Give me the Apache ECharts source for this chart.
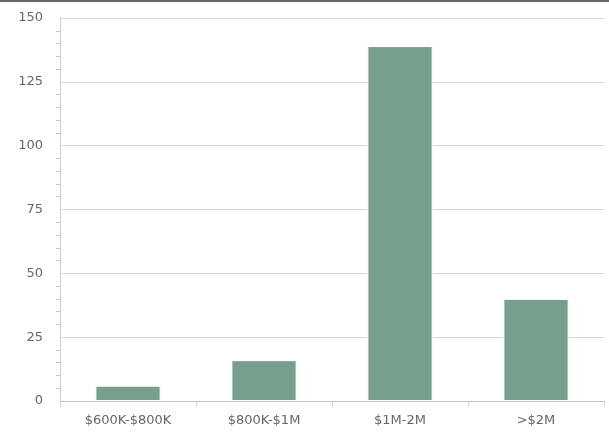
<!DOCTYPE html>
<html>
<head>
<meta charset="utf-8">
<script src="https://cdn.jsdelivr.net/npm/echarts@6/dist/echarts.min.js"></script>
<style>
  html, body { margin: 0; padding: 0; background: #fff; }
  #topline { position: absolute; left: 0; top: 0; width: 609px; height: 2px; background: #6e655c; }
  #chart { width: 609px; height: 440px; }
</style>
</head>
<body>
<div id="topline"></div>
<div id="chart"></div>
<script>
const categories = ['$600K-$800K', '$800K-$1M', '$1M-2M', '>$2M'];
const counts = [6, 16, 139, 40];
const yTicks = [0, 25, 50, 75, 100, 125, 150];

const chart = echarts.init(document.getElementById('chart'));
chart.setOption({
    animation: false,
    grid: {left: 60, right: 5, top: 18, bottom: 39},
    textStyle: {fontFamily: 'DejaVu Sans'},
    xAxis: {
        type: 'category',
        data: categories,
        axisLine: {lineStyle: {color: '#c0c0c0'}},
        axisTick: {show: true, length: 6, lineStyle: {color: '#ccd6eb'}},
        axisLabel: {color: '#666', fontSize: 13, margin: 13}
    },
    yAxis: {
        type: 'value',
        min: yTicks[0],
        max: yTicks[yTicks.length - 1],
        interval: 25,
        axisLine: {show: true, lineStyle: {color: '#d0d0d0'}},
        axisTick: {show: false},
        minorTick: {show: true, splitNumber: 5, length: 4, lineStyle: {color: '#c8c8c8'}},
        splitLine: {lineStyle: {color: '#d8d8d8'}},
        axisLabel: {color: '#666', fontSize: 13, margin: 17}
    },
    series: [{
        type: 'bar',
        data: counts,
        barWidth: '48%',
        itemStyle: {color: '#769f8e', borderColor: '#ffffff', borderWidth: 1}
    }]
});
</script>
</body>
</html>
